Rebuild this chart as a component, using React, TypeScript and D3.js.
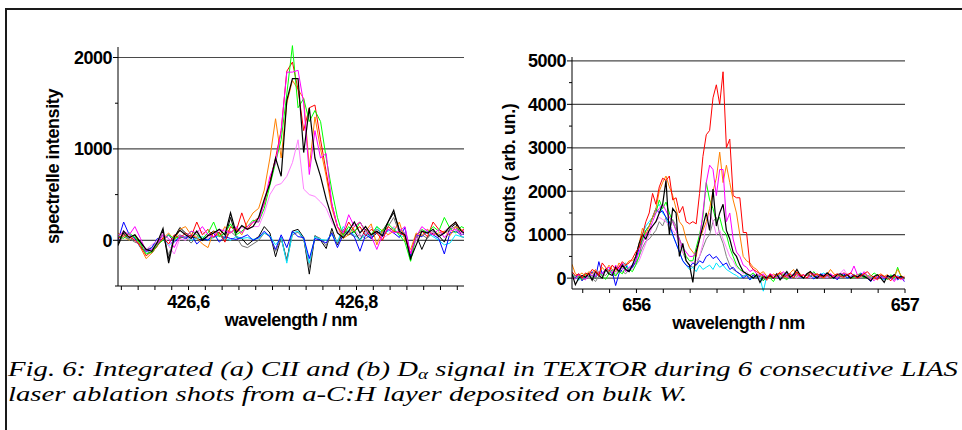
import React, { useLayoutEffect, useRef, useState } from 'react';
import * as d3 from 'd3';

const W = 962;
const H = 430;

// ---------- left chart (CII) ----------
const leftStart = 426.516;
const leftStep = 0.0067;
const leftTicksMajor = [426.6, 426.8];
const leftTickLabels = ['426,6', '426,8'];
const leftYMajor = [0, 1000, 2000];
const leftYMinor = [-500, 500, 1500];

const cRed = [20, 60, 40, 0, -60, -170, -120, -60, 30, -40, 60, 20, 80, 40, 200, 60, 120, 30, 90, -20, 150, 100, 300, 120, 200,
  250, 400, 650, 900, 1200, 1850, 1950, 1650, 1200, 1450, 1480, 1100, 750, 400, 150, 60,
  200, 100, 150, 50, 120, 80, 0, 150, 100, 80, 50, -150, 60, 100, 40, 200, 120, 80, 150, 200, 100, 150];
const cGreen = [50, 20, 80, 30, -40, -150, -130, -50, 0, 60, 20, 40, 30, 100, 60, 20, 80, 200, 40, 80, 180, 60, 100, 150, 220,
  200, 350, 600, 850, 1100, 1600, 2130, 1450, 1550, 1300, 1420, 1300, 900, 550, 250, 50,
  150, 80, 200, 100, 60, 150, 100, 180, 120, 60, -20, -230, 50, 120, 80, 150, 100, 250, 130, 80, 150, 120];
const cOrange = [80, 40, 0, 60, -80, -200, -140, -60, 20, 80, 0, 120, 150, 60, 30, -40, -80, 100, 40, 150, 80, 130, 60, 200, 300,
  350, 550, 900, 1330, 900, 1500, 1750, 1650, 1550, 800, 1350, 1000, 700, 350, 150, 20,
  60, 150, 200, 100, 180, -50, 120, 60, 100, 200, 0, -100, 80, 50, 120, 60, 80, 100, 50, 150, 120, 60];
const cMagenta = [40, 100, 60, 150, 20, -120, -100, -40, 60, 20, -80, 50, 30, 100, 80, 150, 60, 40, 120, 100, 80, 150, 80, 150, 200,
  200, 420, 700, 850, 1200, 1840, 1840, 1860, 1500, 720, 1200, 900, 950, 400, 150, 80,
  280, 150, 200, 100, 50, -100, 60, 120, 80, 100, 150, -150, 40, 150, 100, 60, 120, 30, 100, 120, 80, 140];
const cPink = [60, 30, 80, 0, -60, -100, -50, 0, 80, -60, -150, 20, 0, 40, 60, 100, 20, 80, 50, 130, 90, 100, 140, 120, 150,
  150, 300, 500, 600, 620, 700, 850, 1100, 560, 500, 480, 420, 350, 200, 100, 50,
  100, 120, 40, 80, 150, 80, 20, 60, 150, 130, 80, -150, 0, 100, 120, 80, 40, 100, 150, 120, 60, 90];
const cBlack = [-40, 100, 30, 60, -20, -100, -120, -20, 130, -250, 40, 110, 60, 20, 100, 0, 50, 80, 120, 60, 300, 80, 160, 120, 150,
  250, 450, 620, 900, 700, 1530, 1770, 1770, 960, 1450, 900, 700, 450, 250, 80, 30,
  100, 200, 80, 150, 60, 100, 50, 200, 330, 100, 60, -200, -50, 100, 80, 120, 40, 80, 150, 200, 100, 60];
const cBlue = [0, 200, 60, 20, -80, -120, -80, 20, 0, 60, -20, 40, 20, 60, -40, 20, 0, 80, -20, 40, 20, 10, 30, 60, 0,
  30, 100, 40, -100, 60, -80, 100, 40, 30, -200, 20, 0, -30, 80, -80, 60,
  100, 40, -120, 60, 20, 100, 40, 120, 80, 30, 140, -180, 60, 40, 100, 60, 20, -150, 80, 100, 60, 80];
const cCyan = [20, 60, 0, 40, -80, -130, -100, -40, 20, -60, 0, 30, 40, 0, 20, 40, 0, 30, 50, 20, 0, 40, 20, 30, 10,
  20, 80, 50, -50, 30, -250, 80, 100, 20, -250, 40, 10, 0, 60, -20, 150,
  100, 60, 0, 80, 30, 150, 60, 100, 140, 50, 40, -180, 60, 100, 80, 40, 0, -50, -30, 60, 40, 30];
const cGray = [-20, 40, 20, -20, -40, -100, -80, -20, 60, -160, 20, 60, 30, -30, 40, 20, 10, 40, 60, 0, 100, 40, -60, -80, -40,
  0, 80, 40, -120, 20, -220, 60, 90, 10, -300, 50, 20, -60, 100, -40, 120,
  80, 40, 60, 20, 60, 120, 80, 150, 250, 80, 60, -170, 40, 60, 20, 100, 60, 80, 120, 150, 40, 20];
const cBlack2 = [-60, 80, 0, 30, -20, -120, -140, -60, 100, -200, 30, 140, 80, 40, 20, 0, 60, 100, 80, 20, 250, 40, 20, -50, 0,
  40, 150, 80, -180, 30, -220, 100, 120, 30, -370, 50, 0, -90, 130, -50, 100,
  60, 100, 0, 120, 20, 80, 100, 200, 300, 120, 80, -220, 60, -100, 40, 80, 50, -20, 130, 180, 60, 80];

const leftSeries = [
  { name: 'bg black', color: '#000000', width: 1, values: cBlack2 },
  { name: 'bg gray', color: '#707070', width: 1, values: cGray },
  { name: 'bg cyan', color: '#00e5ff', width: 1, values: cCyan },
  { name: 'bg blue', color: '#0000ff', width: 1, values: cBlue },
  { name: 'pink', color: '#ff80ff', width: 1, values: cPink },
  { name: 'orange', color: '#ff8000', width: 1, values: cOrange },
  { name: 'red', color: '#ff0000', width: 1, values: cRed },
  { name: 'green', color: '#00ff00', width: 1, values: cGreen },
  { name: 'magenta', color: '#ff00ff', width: 1, values: cMagenta },
  { name: 'black', color: '#000000', width: 1.2, values: cBlack },
];

// ---------- right chart (D alpha) ----------
const rightStart = 655.76;
const rightStep = 0.0125;
const rightTicksMajor = [656, 657];
const rightTickLabels = ['656', '657'];
const rightYMajor = [0, 1000, 2000, 3000, 4000, 5000];
const rightYMinor = [500, 1500, 2500, 3500, 4500];

const dRed = [150, 50, 100, 0, 120, 80, 200, 150, 50, 350, 250, 150, 300, 200, 250, 380, 300, 350,
  450, 600, 700, 1000, 1300, 1500, 1950, 1700, 2100, 2300, 2250, 2350, 1800, 1850, 1500, 1650, 1300, 1250, 1300, 1250, 1950, 2800, 3300, 3400, 4150, 4450, 4000, 4750, 3000, 3200, 1900, 1850, 1850, 1050, 1050, 300, 200, 150, 100, 50, -50,
  100, 0, 80, 120, 20, 60, 100, 0, 150, 50, 80, 0, 120, 60, 100, 40, 20, 80, 0, 60, 100, 40, 20, 80, 120, 60, 0, 40, 100, 150, 60, 20, -40, 80, 40, 0, -60, 60, 20, -20, 40];
const dOrange = [320, 100, 60, 120, 40, 150, 100, 200, 80, 250, 150, 300, 200, 150, 350, 250, 300, 400,
  400, 500, 800, 1150, 1000, 1200, 1400, 1600, 2000, 2200, 2350, 2100, 1900, 1600, 1300, 1200, 900, 700, 600, 500, 900, 1100, 1300, 1600, 2000, 2300, 2900, 2200, 2600, 2200, 1800, 1500, 1000, 500, 400, 350, 250, 200, 100, 150, 50,
  0, 100, 50, 150, 80, 0, 120, 200, 60, 100, 0, 80, 150, 40, 100, 60, 0, 80, 200, 100, 40, 60, 120, 80, 0, 40, 80, 60, 100, 40, 0, -20, 60, 100, 40, 80, 0, 40, 200, 60, 0];
const dMagenta = [50, -20, 80, 0, -40, 100, 60, 20, 150, 100, 200, 250, 100, 300, 200, 350, 150, 250,
  300, 400, 600, 800, 1000, 1100, 1300, 1500, 1600, 1700, 1550, 1400, 1300, 1100, 900, 700, 600, 500, 500, 600, 900, 1500, 2200, 2600, 2500, 1900, 2500, 2500, 1300, 1500, 900, 600, 500, 300, 250, 150, 200, 100, 50, 100, 0,
  100, 60, 0, 80, 150, 40, 0, 60, 100, 20, 80, 0, 60, 120, 40, 0, 80, 60, 100, 40, 0, 80, 120, 60, 100, 280, 80, 40, 150, 60, 0, -60, 40, 20, 0, 60, 20, -80, 40, 0, -60];
const dGreen = [80, 0, 50, -40, 100, 20, 60, 0, 150, 50, -30, 100, 200, 50, 150, 100, 250, 200,
  150, 300, 500, 900, 1100, 1200, 1400, 1500, 1800, 1600, 1750, 1500, 1300, 1100, 900, 700, 500, 400, 400, 700, 1000, 1400, 2200, 1800, 1600, 1300, 1400, 1100, 1000, 700, 500, 300, 200, 150, 100, 60, 120, 20, 80, -60, 40,
  0, -80, 60, 100, 20, -40, 80, 0, 120, 60, 0, 100, 40, 150, 60, 0, 40, 100, 60, 0, 80, 40, 120, 60, 0, 20, 80, 100, 0, 60, 40, 120, 60, 0, 40, -40, 80, 0, 250, 40, 0];
const dBlack = [100, -150, 0, 60, 20, 100, -50, 150, 60, 0, 200, 100, 60, 250, 150, 300, 200, 150,
  300, 500, 800, 1000, 900, 1100, 1200, 1300, 1500, 1700, 2250, 1000, 1600, 1500, 500, 800, 400, 300, -100, 600, 900, 1200, 1500, 1100, 2050, 1200, 1500, 1700, 1100, 900, 600, 500, 300, 150, 100, 60, 0, 80, -100, 40, 0,
  60, 0, 100, -40, 60, 150, 20, 80, 200, 60, 0, 100, 150, 60, 0, 80, 40, 120, 60, 0, 80, 100, 40, 80, 0, 60, 20, 80, 40, 0, -60, 40, 80, 0, -100, 60, 20, 80, 0, 40, 0];
const dPink = [0, 50, 100, 20, 80, 0, 60, 150, 100, 50, 200, 250, 150, 100, 300, 200, 150, 250,
  200, 300, 400, 600, 800, 1000, 1200, 1300, 1400, 1350, 1300, 1200, 1100, 1000, 800, 600, 500, 400, 350, 400, 500, 800, 1200, 1500, 1300, 1000, 1100, 900, 700, 500, 400, 250, 200, 100, 150, 60, 100, 40, 0, 80, 20,
  60, 0, 100, 40, 0, 60, 120, 40, 0, 80, 60, 100, 0, 40, 80, 20, 60, 0, 100, 40, 60, 120, 200, 80, 40, 60, 0, 100, 40, 0, -40, 20, 60, 0, 40, -20, 60, 0, 20, -40, 0];
const dGray = [60, 0, 40, -60, 20, 80, 0, -80, 50, 100, 60, 150, 100, 50, 200, 150, 100, 200,
  250, 350, 500, 700, 850, 900, 1000, 1100, 1300, 1200, 1400, 1100, 1350, 1200, 800, 600, 400, 300, 250, 300, 500, 700, 900, 1000, 1300, 1400, 1000, 800, 500, 300, 200, 150, 100, 50, 80, 0, 60, 20, 0, 40, -20,
  40, 0, 60, 20, 80, 0, 40, 100, 20, 60, 0, 80, 40, 100, 20, 0, 60, 40, 80, 20, 0, 60, 40, 100, 20, 0, 40, 60, 0, 20, -20, 40, 0, 60, 20, 0, 40, -40, 20, 0, -20];
const dBlue = [50, 0, 100, -60, 80, 20, 150, 0, 380, 100, 200, 250, 150, -170, 100, 200, 300, 150,
  250, 400, 700, 900, 1100, 1200, 1400, 1600, 1500, 1550, 1400, 1300, 1000, 800, 600, 400, 300, 250, 350, 300, 400, 350, 500, 550, 450, 500, 400, 300, 350, 200, 250, 150, 100, 0, 60, -40, 80, 0, 40, -60, 20,
  60, 0, 80, -40, 40, 100, 0, 60, 120, 40, 0, 80, 60, -20, 40, 100, 60, 0, 80, 40, -40, 60, 100, 0, 40, 80, 20, 120, 60, 0, -80, 40, 0, 60, -20, 40, 0, 60, -40, 20, -80];
const dCyan = [100, 40, -50, 60, 0, 120, 50, 20, 100, 60, 150, 200, 80, 250, 150, 300, 350, 200,
  300, 500, 800, 1000, 1200, 1300, 1400, 1600, 1700, 1500, 1400, 1200, 1000, 800, 600, 400, 300, 200, 250, 150, 300, 200, 250, 300, 200, 350, 250, 300, 200, 150, 100, 60, 0, 40, 80, -40, 20, 60, 0, -300, 40,
  80, 0, 60, 20, 100, 40, 0, 60, 80, 20, 0, 100, 60, 0, 40, 80, 120, 60, 20, 0, 40, 100, 60, 0, 40, 20, 80, 60, 100, 40, 0, 20, 60, 0, -40, 40, 20, 0, 60, 20, -40];

const rightSeries = [
  { name: 'gray', color: '#808080', width: 1, values: dGray },
  { name: 'cyan', color: '#00e5ff', width: 1, values: dCyan },
  { name: 'blue', color: '#0000ff', width: 1, values: dBlue },
  { name: 'pink', color: '#ff80ff', width: 1, values: dPink },
  { name: 'green', color: '#00ff00', width: 1, values: dGreen },
  { name: 'orange', color: '#ff8000', width: 1, values: dOrange },
  { name: 'magenta', color: '#ff00ff', width: 1, values: dMagenta },
  { name: 'black', color: '#000000', width: 1.2, values: dBlack },
  { name: 'red', color: '#ff0000', width: 1, values: dRed },
];

const captionLine1a = 'Fig. 6: Integrated (a) CII and (b) D';
const captionSub = 'α';
const captionLine1b = ' signal in TEXTOR during 6 consecutive LIAS';
const captionLine2 = 'laser ablation shots from a-C:H layer deposited on bulk W.';

const FONT = "'Liberation Sans', Arial, sans-serif";
const SERIF = "'Liberation Serif', 'Times New Roman', serif";
const FS = 18;

type Series = { name: string; color: string; width: number; values: number[] };

function Panel(props: {
  id: string;
  left: number; right: number; top: number; bottom: number;
  xDomain: [number, number]; yDomain: [number, number];
  xStart: number; xStep: number;
  xMajor: number[]; xLabels: string[]; xMinorStep: number;
  yMajor: number[]; yMinor: number[];
  yLabel: string; yLabelX: number;
  series: Series[];
}) {
  const p = props;
  const x = d3.scaleLinear().domain(p.xDomain).range([p.left, p.right]);
  const y = d3.scaleLinear().domain(p.yDomain).range([p.bottom, p.top]);
  const xMinor: number[] = [];
  const first = Math.ceil((p.xDomain[0] - 1e-9) / p.xMinorStep);
  const last = Math.floor((p.xDomain[1] + 1e-9) / p.xMinorStep);
  for (let k = first; k <= last; k++) xMinor.push(k * p.xMinorStep);
  const line = d3.line<number>()
    .x((_, i) => x(p.xStart + i * p.xStep))
    .y((v) => y(v));
  const midY = (p.top + p.bottom) / 2;
  return (
    <g>
      <defs>
        <clipPath id={p.id}>
          <rect x={p.left} y={p.top - 10} width={p.right - p.left} height={p.bottom - p.top + 20} />
        </clipPath>
      </defs>
      {p.yMajor.map((v) => (
        <line key={'g' + v} x1={p.left} x2={p.right} y1={y(v)} y2={y(v)} stroke="#4a4a4a" strokeWidth={1.2} />
      ))}
      <g clipPath={`url(#${p.id})`}>
        {p.series.map((s) => (
          <path key={s.name} d={line(s.values) || ''} fill="none" stroke={s.color} strokeWidth={s.width} />
        ))}
      </g>
      <line x1={p.left} x2={p.left} y1={p.top} y2={p.bottom} stroke="#000" strokeWidth={1} />
      <line x1={p.left} x2={p.right} y1={p.bottom} y2={p.bottom} stroke="#000" strokeWidth={1} />
      {p.yMajor.map((v) => (
        <g key={'yt' + v}>
          <line x1={p.left - 5} x2={p.left} y1={y(v)} y2={y(v)} stroke="#000" />
          <text x={p.left - 6} y={y(v) + 6.5} textAnchor="end" fontFamily={FONT} fontWeight="bold" fontSize={FS} letterSpacing={-0.5}>{v}</text>
        </g>
      ))}
      {p.yMinor.map((v) => (
        <line key={'ym' + v} x1={p.left - 3} x2={p.left} y1={y(v)} y2={y(v)} stroke="#000" />
      ))}
      {xMinor.map((v, i) => (
        <line key={'xm' + i} x1={x(v)} x2={x(v)} y1={p.bottom} y2={p.bottom + 4} stroke="#000" />
      ))}
      {p.xMajor.map((v, i) => (
        <text key={'xl' + i} x={x(v)} y={p.bottom + 22} textAnchor="middle" fontFamily={FONT} fontWeight="bold" fontSize={FS} letterSpacing={-0.5}>{p.xLabels[i]}</text>
      ))}
      <text x={(p.left + p.right) / 2} y={p.bottom + 40} textAnchor="middle" fontFamily={FONT} fontWeight="bold" fontSize={FS} letterSpacing={-0.5}>wavelength / nm</text>
      <text transform={`translate(${p.yLabelX},${midY}) rotate(-90)`} textAnchor="middle" fontFamily={FONT} fontWeight="bold" fontSize={FS} letterSpacing={-0.4}>{p.yLabel}</text>
    </g>
  );
}

export default function App() {
  const l1 = useRef<SVGTextElement>(null);
  const l2 = useRef<SVGTextElement>(null);
  const [len2, setLen2] = useState<number | null>(null);
  const target1 = 950;

  useLayoutEffect(() => {
    if (l1.current && l2.current && len2 === null) {
      const w1 = l1.current.getComputedTextLength();
      const w2 = l2.current.getComputedTextLength();
      if (w1 > 0) setLen2((w2 * target1) / w1);
    }
  }, [len2]);

  return (
    <svg width={W} height={H} style={{ position: 'absolute', left: 0, top: 0, background: '#fff' }}>
      <rect x={0} y={0} width={W} height={H} fill="#fff" />
      <path d={`M6,${H} V9 H${W}`} fill="none" stroke="#1a1a1a" strokeWidth={2} />
      <Panel
        id="clipL"
        left={118} right={464} top={47} bottom={286}
        xDomain={[leftStart, 426.928]} yDomain={[-500, 2115]}
        xStart={leftStart} xStep={leftStep}
        xMajor={leftTicksMajor} xLabels={leftTickLabels} xMinorStep={0.02}
        yMajor={leftYMajor} yMinor={leftYMinor}
        yLabel="spectrelle intensity" yLabelX={59}
        series={leftSeries}
      />
      <Panel
        id="clipR"
        left={572} right={905} top={57} bottom={289}
        xDomain={[rightStart, 657]} yDomain={[-250, 5090]}
        xStart={rightStart} xStep={rightStep}
        xMajor={rightTicksMajor} xLabels={rightTickLabels} xMinorStep={0.1}
        yMajor={rightYMajor} yMinor={rightYMinor}
        yLabel="counts ( arb. un.)" yLabelX={515}
        series={rightSeries}
      />
      <g visibility="hidden">
        <text ref={l1} x={0} y={-50} fontFamily={SERIF} fontStyle="italic" fontSize={21}>
          {captionLine1a}<tspan fontSize={14}>{captionSub}</tspan>{captionLine1b}
        </text>
        <text ref={l2} x={0} y={-50} fontFamily={SERIF} fontStyle="italic" fontSize={21}>{captionLine2}</text>
      </g>
      <text x={8} y={376} fontFamily={SERIF} fontStyle="italic" fontSize={21} textLength={target1} lengthAdjust="spacingAndGlyphs">
        {captionLine1a}<tspan fontSize={14} dy={3}>{captionSub}</tspan><tspan dy={-3}>{captionLine1b}</tspan>
      </text>
      <text x={8} y={401} fontFamily={SERIF} fontStyle="italic" fontSize={21}
        {...(len2 ? { textLength: len2, lengthAdjust: 'spacingAndGlyphs' } : {})}>
        {captionLine2}
      </text>
    </svg>
  );
}
